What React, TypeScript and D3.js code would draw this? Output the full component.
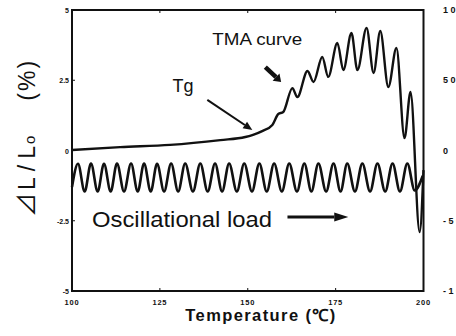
import * as d3 from 'd3'

const W = 456
const H = 336

// TMA curve (temperature °C, dL/L0 %)
const tmaT = [100, 113.7, 127.9, 142.2, 149.3, 151.3, 154.1, 157.0, 158.7, 160.1, 162.7, 164.1, 167.0, 168.7, 171.2, 172.9, 175.5, 177.2, 179.5, 181.2, 183.8, 185.8, 187.7, 190.0, 192.3, 194.6, 196.3, 198.9, 200]
const tmaV = [0.02, 0.12, 0.2, 0.37, 0.48, 0.55, 0.69, 0.91, 1.3, 1.37, 2.22, 1.9, 2.83, 2.44, 3.33, 2.62, 3.83, 2.86, 4.18, 2.86, 4.36, 2.76, 4.25, 2.26, 3.65, 0.44, 2.08, -2.9, -0.7]

// oscillational load, turning points
const loadT = [100, 101.7, 103.6, 105.4, 107.3, 109.1, 111.0, 112.8, 114.8, 116.8, 118.7, 120.5, 122.4, 124.2, 126.2, 128.2, 130.2, 132.2, 134.4, 136.5, 138.6, 140.7, 142.7, 144.7, 146.9, 149.0, 151.2, 153.3, 155.4, 157.5, 159.7, 161.8, 164.0, 166.1, 168.1, 170.1, 172.3, 174.4, 176.4, 178.3, 180.5, 182.6, 184.8, 186.9, 189.1, 191.2, 193.3, 195.4, 197.5, 199.8]
const loadV = [-1.3, -0.47, -1.46, -0.46, -1.46, -0.47, -1.46, -0.46, -1.46, -0.46, -1.46, -0.46, -1.46, -0.47, -1.46, -0.46, -1.46, -0.46, -1.46, -0.46, -1.46, -0.46, -1.46, -0.46, -1.46, -0.46, -1.46, -0.46, -1.46, -0.46, -1.46, -0.46, -1.46, -0.46, -1.46, -0.46, -1.46, -0.46, -1.46, -0.46, -1.46, -0.46, -1.46, -0.46, -1.46, -0.46, -1.46, -0.46, -1.42, -0.9]

const xTicks = [100, 125, 150, 175, 200]
const yTicks = [5, 2.5, 0, -2.5, -5]
const yTickLabels = ['5', '2.5', '0', '-2.5', '-5']
const rightTickLabels = ['100', '50', '0', '-50', '-100']

const ink = '#111'

export default function App() {
  const x = d3.scaleLinear().domain([100, 200]).range([72, 423.5])
  const y = d3.scaleLinear().domain([-5, 5]).range([291, 10])

  const line = d3
    .line<[number, number]>()
    .x((d) => x(d[0]))
    .y((d) => y(d[1]))
    .curve(d3.curveMonotoneX)

  const tmaPath = line(tmaT.map((t, i) => [t, tmaV[i]]))
  const loadPath = line(loadT.map((t, i) => [t, loadV[i]]))

  const arrow = (x1: number, y1: number, x2: number, y2: number, sw: number, hl: number, hw: number) => {
    const a = Math.atan2(y2 - y1, x2 - x1)
    const bx = x2 - hl * Math.cos(a)
    const by = y2 - hl * Math.sin(a)
    const px = Math.sin(a) * hw
    const py = -Math.cos(a) * hw
    return (
      <g>
        <line x1={x1} y1={y1} x2={bx} y2={by} stroke={ink} strokeWidth={sw} />
        <polygon points={`${x2},${y2} ${bx + px},${by + py} ${bx - px},${by - py}`} fill={ink} />
      </g>
    )
  }

  const font = '"Liberation Sans", Arial, sans-serif'

  return (
    <svg width={W} height={H} style={{ position: 'absolute', left: 0, top: 0, background: '#fff' }} fontFamily={font}>
      <rect x={72} y={10} width={351.5} height={281} fill="none" stroke={ink} strokeWidth={2} />

      {xTicks.map((t) => (
        <g key={'x' + t}>
          <line x1={x(t)} x2={x(t)} y1={291} y2={288} stroke={ink} strokeWidth={1} />
          <line x1={x(t)} x2={x(t)} y1={10} y2={13} stroke={ink} strokeWidth={1} />
          <text x={x(t)} y={305} textAnchor="middle" fontSize={7.5} fontWeight="bold" fill={ink} letterSpacing={0.8}>
            {t}
          </text>
        </g>
      ))}
      {yTicks.map((v, i) => (
        <g key={'y' + v}>
          <line x1={72} x2={75} y1={y(v)} y2={y(v)} stroke={ink} strokeWidth={1} />
          <text x={69} y={y(v) + 3} textAnchor="end" fontSize={7} fontWeight="bold" fill={ink}>
            {yTickLabels[i]}
          </text>
          <text x={443} y={y(v) + 3} fontSize={9} fontWeight="bold" fill={ink} letterSpacing={2.5}>
            {rightTickLabels[i]}
          </text>
        </g>
      ))}

      <path d={loadPath ?? ''} fill="none" stroke={ink} strokeWidth={2.6} strokeLinejoin="round" />
      <path d={tmaPath ?? ''} fill="none" stroke={ink} strokeWidth={2.4} strokeLinejoin="round" />

      <text x={x(131.6)} y={y(2.08)} textAnchor="middle" fontSize={18} fill={ink}>
        Tg
      </text>
      {arrow(x(138.5), y(1.8), x(151.3), y(0.73), 2, 9, 4)}

      <text x={x(139.9)} y={y(3.75)} fontSize={16} fill={ink} textLength={90} lengthAdjust="spacingAndGlyphs">
        TMA curve
      </text>
      {arrow(x(155.0), y(2.97), x(159.5), y(2.44), 4.5, 7, 5)}

      <text x={x(105.7)} y={y(-2.72)} fontSize={22} fill={ink} textLength={180} lengthAdjust="spacingAndGlyphs">
        Oscillational load
      </text>
      {arrow(x(161.3), y(-2.37), x(178.6), y(-2.37), 3, 14, 4.5)}

      <g transform="translate(35,217) rotate(-90)">
        <text x={0} y={0} fontSize={23} fill={ink}>
          <tspan fontSize={24} fontFamily='"Noto Sans CJK JP", "DejaVu Sans", sans-serif'>⊿</tspan>
          <tspan letterSpacing={6} dx={3}>L/L</tspan>
          <tspan fontSize={15} dx={-4}>o</tspan>
          <tspan dx={35} letterSpacing={2}>(%)</tspan>
        </text>
      </g>

      <text x={261} y={321} textAnchor="middle" fontSize={16.5} fontWeight="bold" fill={ink} letterSpacing={1.4}>
        Temperature (℃)
      </text>
    </svg>
  )
}
